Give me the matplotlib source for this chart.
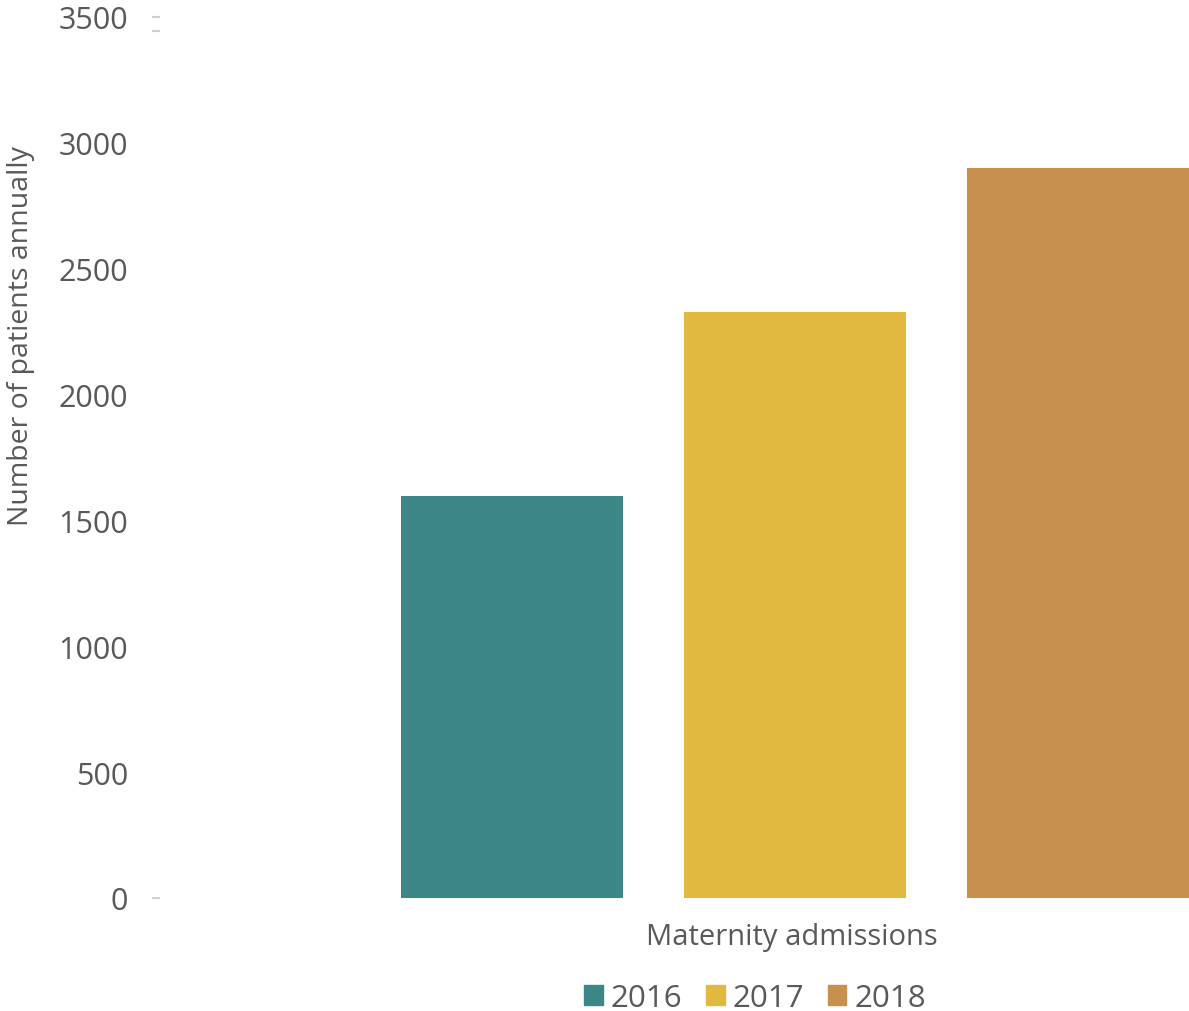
import matplotlib
matplotlib.use("Agg")
import matplotlib.pyplot as plt
from matplotlib.patches import Patch

category = "Maternity admissions"
years = ["2016", "2017", "2018"]
values = [1598, 2330, 2900]
colors = ["#3C8688", "#E1B941", "#C8904D"]
yticks = [0, 500, 1000, 1500, 2000, 2500, 3000, 3500]

plt.rcParams['font.family'] = ['Open Sans', 'DejaVu Sans']
txt = "#595959"

fig = plt.figure(figsize=(11.89, 10.12), dpi=100)
ax = fig.add_axes([160/1189, 113/1012, 1029/1189, 881/1012])

positions = [-1, 0, 1]
for p, v, c in zip(positions, values, colors):
    ax.bar(p, v, width=0.785, color=c)

ax.set_xlim(-2.244, 1.392)
ax.set_ylim(0, 3500)
ax.set_yticks(yticks)
ax.set_yticklabels([str(t) for t in yticks], fontsize=22, color=txt)
ax.tick_params(axis='y', which='major', length=0, pad=23)
ax.yaxis.remove_overlapping_locs = False
ax.set_yticks([0, 3445, 3500], minor=True)
ax.tick_params(axis='y', which='minor', length=6, width=1.5, color="#d0d0d0")
ax.set_xticks([])
for s in ax.spines.values():
    s.set_visible(False)

ax.set_ylabel("Number of patients annually", fontsize=20.5, color=txt)
ax.yaxis.set_label_coords(-0.121, 0.639)

fig.text(792/1189, 1 - 938/1012, category, ha='center', va='center', fontsize=21, color=txt)

handles = [Patch(color=c, label=y) for y, c in zip(years, colors)]
leg = fig.legend(handles=handles, loc='center', bbox_to_anchor=(755/1189, 1 - 999/1012),
                 ncol=3, frameon=False, fontsize=22.5, handlelength=0.6, handleheight=0.6,
                 handletextpad=0.25, columnspacing=0.75, labelcolor=txt)

fig.savefig("out.png", dpi=100)
